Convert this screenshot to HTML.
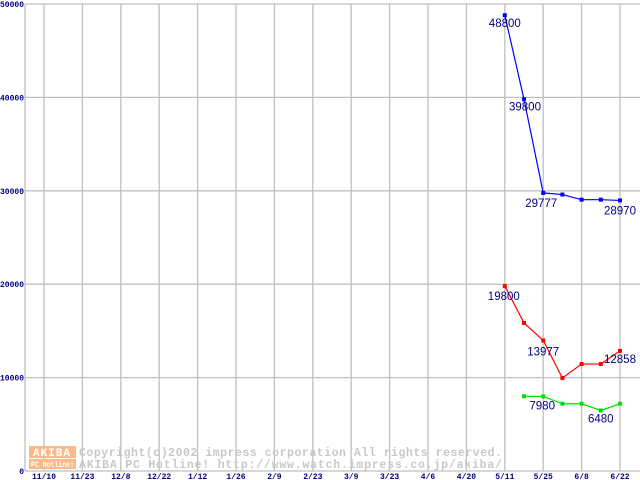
<!DOCTYPE html>
<html><head><meta charset="utf-8"><style>
html,body{margin:0;padding:0;background:#fff;width:640px;height:480px;overflow:hidden}
svg{display:block;font-family:"Liberation Mono",monospace}
</style></head><body>
<svg id="chart" width="640" height="480" viewBox="0 0 640 480" xmlns="http://www.w3.org/2000/svg">
<g id="grid"></g>
<g id="wm">
 <rect x="29" y="446" width="47" height="12" fill="#f9b98a"/>
 <text x="52" y="456" font-size="11" fill="#fff" text-anchor="middle" font-weight="bold" letter-spacing="1">AKIBA</text>
 <rect x="29" y="459" width="47" height="10" fill="#f9b98a"/>
 <text x="31" y="467" font-size="8" fill="#fff" font-weight="bold" textLength="43" lengthAdjust="spacingAndGlyphs">PC Hotline!</text>
 <text x="79" y="456" font-size="11.5" fill="#c8c8c8" font-weight="bold" textLength="423">Copyright(c)2002 impress corporation All rights reserved.</text>
 <text x="79" y="468" font-size="11.5" fill="#c8c8c8" font-weight="bold" textLength="423">AKIBA PC Hotline!  http://www.watch.impress.co.jp/akiba/</text>
</g>
<g id="series"></g>
</svg>
<script>
const xTickLabels=["11/10","11/23","12/8","12/22","1/12","1/26","2/9","2/23","3/9","3/23","4/6","4/20","5/11","5/25","6/8","6/22"];
const yTicks=[0,10000,20000,30000,40000,50000];
const blueValues=[48800,39800,29777,29600,29050,29050,28970];
const redValues=[19800,15850,13977,9960,11450,11450,12858];
const greenValues=[null,8000,7980,7200,7200,6480,7200];
const blueLabels=[[0,"48800"],[1,"39800"],[2,"29777"],[6,"28970"]];
const redLabels=[[0,"19800"],[2,"13977"],[6,"12858"]];
const greenLabels=[[2,"7980"],[5,"6480"]];
const NS="http://www.w3.org/2000/svg";
const X0=44,XSTEP=38.4,WEEK0=12;
const xw=i=>X0+(WEEK0+i/2)*XSTEP;
const y=v=>471-v/50000*467;
function mk(tag,attrs,parent){const e=document.createElementNS(NS,tag);for(const k in attrs)e.setAttribute(k,attrs[k]);parent.appendChild(e);return e;}
const grid=document.getElementById('grid');
yTicks.forEach(v=>{
 const l=mk('line',{x1:25,x2:640,y1:y(v),y2:y(v),stroke:'#c0c0c0','stroke-width':1.3},grid);
 
 
 const t=mk('text',{x:24,y:y(v)+3,'font-size':8,'font-weight':'bold',fill:'#000080','text-anchor':'end'},grid);
 t.textContent=String(v);
 
 
});
mk('line',{x1:25,x2:25,y1:4,y2:471,stroke:'#c0c0c0','stroke-width':1.3},grid);
xTickLabels.forEach((lab,i)=>{
 const x=X0+i*XSTEP;
 const l=mk('line',{x1:x,x2:x,y1:4,y2:471,stroke:'#c0c0c0','stroke-width':1.3},grid);
 
 
 const t=mk('text',{x:x,y:479,'font-size':8,'font-weight':'bold',fill:'#000080','text-anchor':'middle'},grid);
 t.textContent=lab;
 
 
});
const ser=document.getElementById('series');
function series(vals,color,name,labels,offs){
 const pts=[];vals.forEach((v,i)=>{if(v!==null)pts.push([xw(i),y(v)]);});
 const p=mk('polyline',{points:pts.map(q=>q.join(',')).join(' '),fill:'none',stroke:color,'stroke-width':1.2},ser);
 
 
 pts.forEach(q=>{
  const r=mk('rect',{x:q[0]-2,y:q[1]-2,width:4,height:4,fill:color},ser);
  
  
 });
 labels.forEach(([i,txt],k)=>{
  const t=mk('text',{x:xw(i)+offs[k][0],y:y(vals[i])+offs[k][1],'font-size':11.5,fill:'#000080','text-anchor':'middle','font-family':'Liberation Sans, sans-serif'},ser);
  t.textContent=txt;
  
  
 });
}
series(blueValues,'#0000ff','blue-series',blueLabels,[[0,12],[1,11],[-2,14],[0,14]]);
series(redValues,'#ff0000','red-series',redLabels,[[-1,14],[0,15],[0,12]]);
series(greenValues,'#00e000','green-series',greenLabels,[[-1,13],[0,12]]);
</script>
</body></html>
